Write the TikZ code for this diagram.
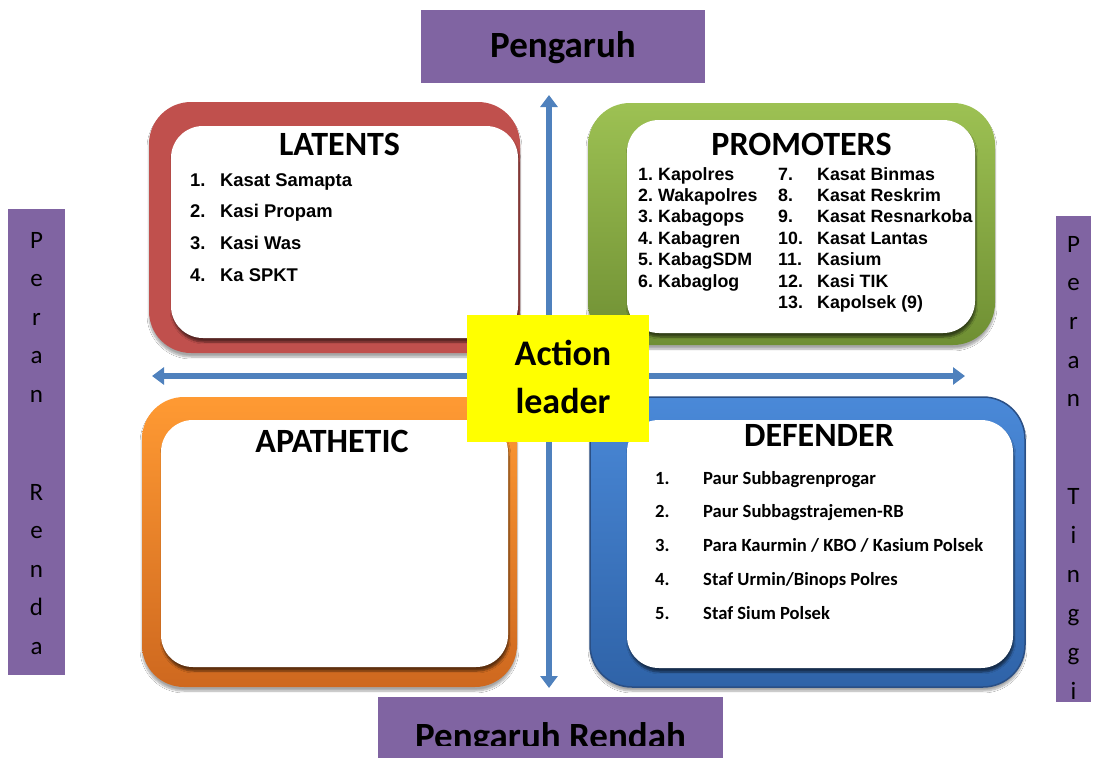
\documentclass[tikz,border=0pt]{standalone}
\usepackage{fontspec}
\setmainfont{Carlito}
\newfontfamily\arialfont{Liberation Sans}
\usetikzlibrary{arrows.meta,shadows.blur}
\definecolor{purp}{HTML}{8064A2}
\definecolor{redf}{HTML}{C0504D}
\definecolor{greenA}{HTML}{9DC153}
\definecolor{greenB}{HTML}{6F8F33}
\definecolor{orangeA}{HTML}{FF9A33}
\definecolor{orangeB}{HTML}{CE681F}
\definecolor{blueA}{HTML}{4A89D8}
\definecolor{blueB}{HTML}{2F63A8}
\definecolor{blueRim}{HTML}{2A4F85}
\definecolor{arrowblue}{HTML}{4F81BD}
\definecolor{yel}{HTML}{FFFF00}
\begin{document}
\begin{tikzpicture}[x=1pt,y=-1pt,
  purpbox/.style={rectangle,fill=purp,inner sep=0pt},
  outerbox/.style={rectangle,rounded corners=42pt,inner sep=0pt,
    blur shadow={shadow xshift=0pt,shadow yshift=-4pt,shadow blur steps=8,shadow opacity=35}},
  innerbox/.style={rectangle,rounded corners=32pt,fill=white,inner sep=0pt,
    blur shadow={shadow xshift=1pt,shadow yshift=-4pt,shadow blur steps=6,shadow opacity=55}},
  heading/.style={anchor=base,inner sep=0pt,font=\bfseries\fontsize{34}{40}\selectfont},
  bigtitle/.style={anchor=base,inner sep=0pt,font=\bfseries\fontsize{37}{44}\selectfont},
  sideletter/.style={anchor=base,inner sep=0pt,font=\fontsize{25}{30}\selectfont},
  latitem/.style={anchor=base west,inner sep=0pt,font=\arialfont\bfseries\fontsize{18.4}{22}\selectfont},
  proitem/.style={anchor=base west,inner sep=0pt,font=\arialfont\bfseries\fontsize{17.8}{21}\selectfont},
  defitem/.style={anchor=base west,inner sep=0pt,font=\bfseries\fontsize{18.6}{22}\selectfont},
  axisarrow/.style={draw=arrowblue,line width=6pt,{Triangle[width=17pt,length=12pt]}-{Triangle[width=17pt,length=12pt]}},
  actiontext/.style={anchor=base,inner sep=0pt,font=\bfseries\fontsize{36}{44}\selectfont}
]
\useasboundingbox (0,0) rectangle (1096,758);
\fill[white] (0,0) rectangle (1096,758);

% purple labels
\node[purpbox,minimum width=284pt,minimum height=73pt] (top) at (563,46.5) {};
\node[bigtitle] (toptext) at (563,57) {Pengaruh};
\node[purpbox,minimum width=345pt,minimum height=73pt] (bottom) at (550.5,733.5) {};
\begin{scope}
  \clip (378,697) rectangle (723,745);
  \node[bigtitle] (bottomtext) at (550.5,748.5) {Pengaruh Rendah};
\end{scope}
\node[purpbox,minimum width=57pt,minimum height=466pt] (left) at (36.5,442) {};
\node[purpbox,minimum width=35pt,minimum height=486pt] (right) at (1073.5,459) {};

\foreach \ch/\yy [count=\k] in {P/248,e/286.5,r/325,a/363.5,n/402,R/500,e/538.5,n/577,d/615.5,a/654}
  \node[sideletter] (l\k) at (36.5,\yy) {\ch};
\foreach \ch/\yy [count=\k] in {P/252,e/290.7,r/329.4,a/368.1,n/406.8,T/504,i/543,n/582,g/621,g/660,i/699}
  \node[sideletter] (r\k) at (1073.5,\yy) {\ch};

% quadrant frames
\node[outerbox,fill=redf,minimum width=371pt,minimum height=251pt] (latO) at (334.5,227.5) {};
\node[innerbox,minimum width=347pt,minimum height=212pt] (latI) at (344.5,232) {};
\node[outerbox,top color=greenA,bottom color=greenB,minimum width=407pt,minimum height=242pt] (proO) at (791.5,224) {};
\node[innerbox,minimum width=348pt,minimum height=213pt] (proI) at (801,226.5) {};
\node[outerbox,top color=orangeA,bottom color=orangeB,minimum width=375pt,minimum height=290pt] (apaO) at (329.5,542) {};
\node[innerbox,minimum width=347pt,minimum height=247pt] (apaI) at (334.5,543.5) {};
\node[outerbox,top color=blueA,bottom color=blueB,draw=blueRim,line width=1.5pt,minimum width=435pt,minimum height=290pt] (defO) at (807.5,542) {};
\node[innerbox,minimum width=386pt,minimum height=248pt] (defI) at (820,544) {};

% axes
\coordinate (vT) at (549,95);
\coordinate (vB) at (549,688);
\coordinate (hL) at (152,376);
\coordinate (hR) at (965,376);
\draw[axisarrow] (vT) -- (vB);
\draw[axisarrow] (hL) -- (hR);

% headings
\node[heading] (latH) at (339.5,155) {LATENTS};
\node[heading] (proH) at (801.5,155) {PROMOTERS};
\node[heading] (apaH) at (332,452) {APATHETIC};
\node[heading] (defH) at (819,446.5) {DEFENDER};

% lists
\foreach \t [count=\i] in {Kasat Samapta,Kasi Propam,Kasi Was,Ka SPKT} {
  \node[latitem] (latn\i) at (190,{186+31.7*(\i-1)}) {\i.};
  \node[latitem] (lat\i) at (220,{186+31.7*(\i-1)}) {\t};
}
\foreach \t [count=\i] in {Kapolres,Wakapolres,Kabagops,Kabagren,KabagSDM,Kabaglog} {
  \node[proitem] (pron\i) at (638,{180+21.4*(\i-1)}) {\i.};
  \node[proitem] (pro\i) at (658,{180+21.4*(\i-1)}) {\t};
}
\foreach \t [count=\i from 7] in {Kasat Binmas,Kasat Reskrim,Kasat Resnarkoba,Kasat Lantas,Kasium,Kasi TIK,{Kapolsek (9)}} {
  \node[proitem] (pron\i) at (778,{180+21.4*(\i-7)}) {\i.};
  \node[proitem] (pro\i) at (817,{180+21.4*(\i-7)}) {\t};
}
\foreach \t [count=\i] in {Paur Subbagrenprogar,Paur Subbagstrajemen-RB,Para Kaurmin / KBO / Kasium Polsek,Staf Urmin/Binops Polres,Staf Sium Polsek} {
  \node[defitem] (defn\i) at (655,{484+33.75*(\i-1)}) {\i.};
  \node[defitem] (def\i) at (703,{484+33.75*(\i-1)}) {\t};
}

% centre
\node[rectangle,fill=yel,inner sep=0pt,minimum width=182pt,minimum height=127pt] (act) at (558,378.5) {};
\node[actiontext] (act1) at (563,365) {Action};
\node[actiontext] (act2) at (563,413) {leader};
\end{tikzpicture}
\end{document}
